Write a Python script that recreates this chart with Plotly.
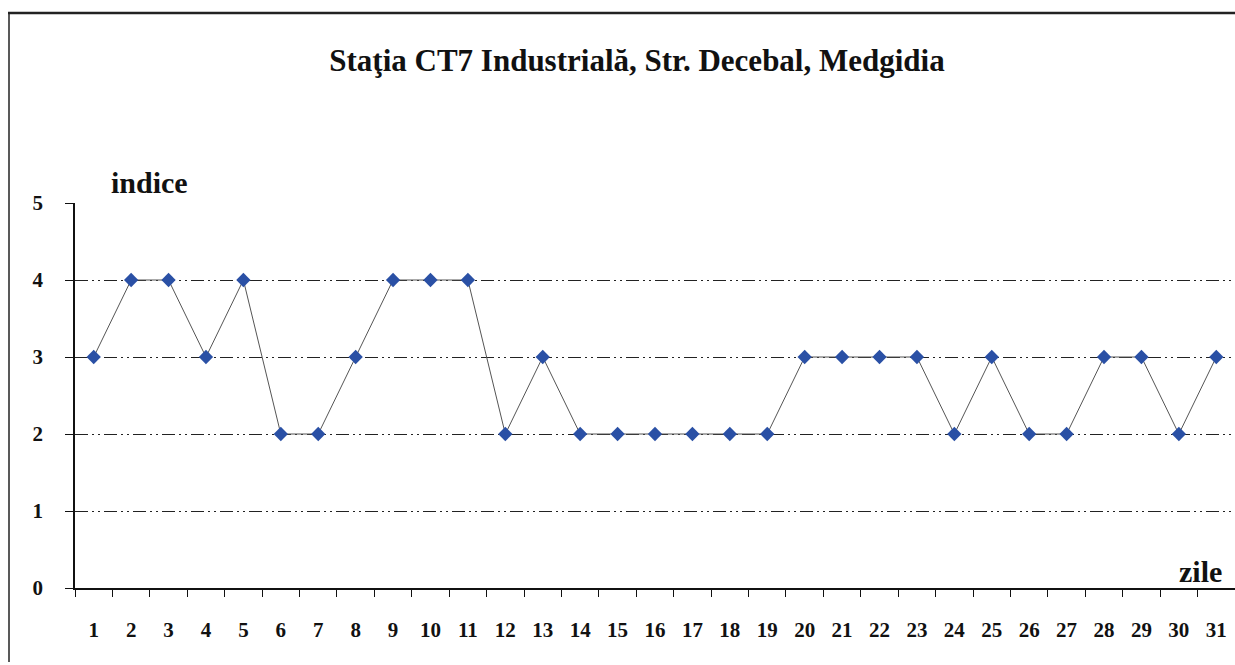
import plotly.graph_objects as go

days = list(range(1, 32))
indice = [3, 4, 4, 3, 4, 2, 2, 3, 4, 4, 4, 2, 3, 2, 2, 2, 2, 2, 2, 3, 3, 3, 3, 2, 3, 2, 2, 3, 3, 2, 3]
y_ticks = [0, 1, 2, 3, 4, 5]
title_text = "Staţia CT7 Industrială, Str. Decebal, Medgidia"

W, H = 1235, 665
L, R, T, B = 75, 0, 203, 77
pw, ph = W - L - R, H - T - B

def px(x):
    return (x - L) / pw

def py(y):
    return (H - B - y) / ph

fnt = "Liberation Serif"

fig = go.Figure()
fig.add_trace(go.Scatter(
    x=days, y=indice, mode="lines+markers",
    line=dict(color="#555555", width=1),
    marker=dict(symbol="diamond", size=11, color="#2a50a5", line=dict(width=0)),
    showlegend=False, hoverinfo="x+y",
))

fig.update_layout(
    width=W, height=H,
    margin=dict(l=L, r=R, t=T, b=B),
    paper_bgcolor="white", plot_bgcolor="white",
    title=dict(text="<b>" + title_text + "</b>", x=637 / W, xanchor="center",
               y=1 - 60 / H, yanchor="middle",
               font=dict(family=fnt, size=31, color="#111111")),
    xaxis=dict(
        range=[0.5, 31.5], tickvals=days, ticktext=[str(d) for d in days],
        ticks="", showgrid=False, zeroline=False,
        showline=True, linecolor="#111111", linewidth=1.5,
        ticklabelstandoff=22,
        tickfont=dict(family=fnt, size=21, color="#111111", weight="bold"),
        minor=dict(tickvals=[d + 0.5 for d in [0] + days], ticks="outside",
                   ticklen=7, tickcolor="#111111", tickwidth=1, showgrid=False),
    ),
    yaxis=dict(
        range=[0, 5], tickvals=y_ticks, ticks="outside", ticklen=8,
        tickcolor="#111111", tickwidth=1,
        showgrid=True, gridcolor="#222222", gridwidth=1,
        griddash="13px,4px,2px,4px,2px,4px",
        zeroline=False, showline=True, linecolor="#111111", linewidth=1.5,
        ticklabelstandoff=18,
        tickfont=dict(family=fnt, size=21, color="#111111", weight="bold"),
    ),
    annotations=[
        dict(text="<b>indice</b>", x=px(149), y=py(182), xref="paper", yref="paper",
             xanchor="center", yanchor="middle", showarrow=False,
             font=dict(family=fnt, size=30, color="#111111")),
        dict(text="<b>zile</b>", x=px(1224), y=py(571), xref="paper", yref="paper",
             xanchor="right", yanchor="middle", showarrow=False,
             font=dict(family=fnt, size=30, color="#111111")),
    ],
    shapes=[
        dict(type="line", xref="paper", yref="paper", x0=px(8), x1=px(1240),
             y0=py(13), y1=py(13), line=dict(color="#222222", width=2.5)),
        dict(type="line", xref="paper", yref="paper", x0=px(9), x1=px(9),
             y0=py(13), y1=py(662), line=dict(color="#222222", width=1.5)),
    ],
)

fig.write_html("out.html",
               config={"displayModeBar": False},
               post_script="document.body.style.margin='0';document.body.style.overflow='hidden';")
